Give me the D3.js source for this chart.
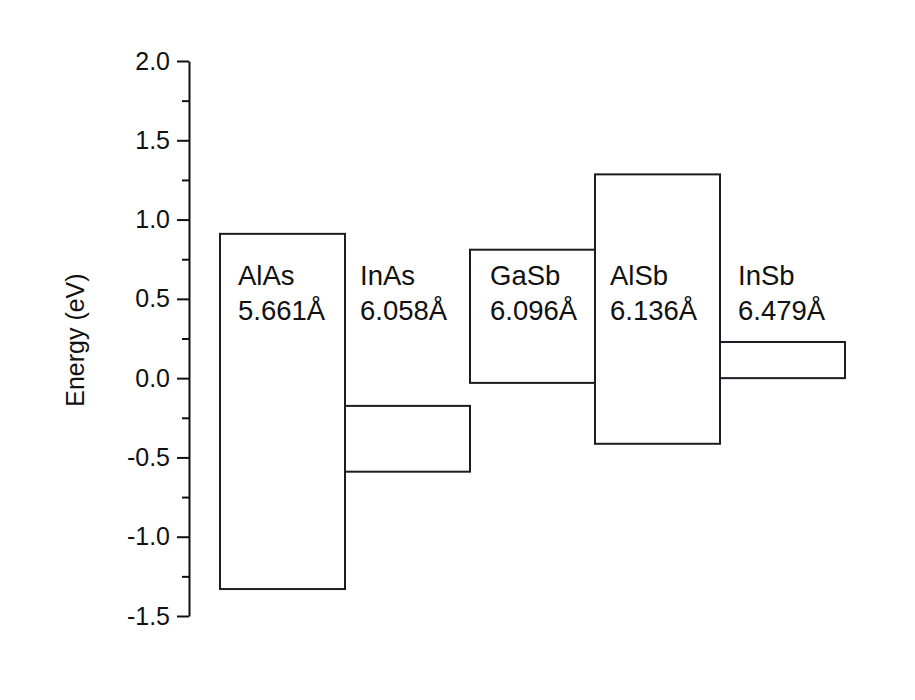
<!DOCTYPE html>
<html>
<head>
<meta charset="utf-8">
<script src="https://cdn.jsdelivr.net/npm/d3@7"></script>
<style>
  html, body { margin: 0; padding: 0; background: #ffffff; }
  svg { display: block; }
  text { font-family: Arial, "Liberation Sans", sans-serif; fill: #111; }
</style>
</head>
<body>
<svg id="chart" width="915" height="700"></svg>
<script>
// Band alignment of III-V semiconductors: each box spans valence to conduction band edge
const materials = ["AlAs", "InAs", "GaSb", "AlSb", "InSb"];
const latticeConstants = ["5.661Å", "6.058Å", "6.096Å", "6.136Å", "6.479Å"];
const bandTop = [0.91, -0.175, 0.81, 1.285, 0.228];
const bandBottom = [-1.33, -0.59, -0.03, -0.414, 0.0];

const yMajorTicks = [-1.5, -1.0, -0.5, 0.0, 0.5, 1.0, 1.5, 2.0];
const yMinorTicks = [-1.25, -0.75, -0.25, 0.25, 0.75, 1.25, 1.75];

// per-label horizontal nudge inside each box
const labelNudge = [18, 15, 20, 15, 18];

const svg = d3.select("#chart");

const y = d3.scaleLinear().domain([-1.5, 2.0]).range([616, 61]);
const x = d3.scaleBand().domain(materials).range([220, 845]).padding(0);

const axisX = 189;

// minor ticks
const minorAxis = d3.axisLeft(y).tickValues(yMinorTicks).tickSize(7).tickFormat("");
const gMinor = svg.append("g").attr("transform", `translate(${axisX},0)`).call(minorAxis);
gMinor.select(".domain").remove();
gMinor.selectAll(".tick line").attr("stroke", "#111").attr("stroke-width", 2);

// major ticks with labels
const majorAxis = d3.axisLeft(y)
  .tickValues(yMajorTicks)
  .tickSize(12)
  .tickSizeOuter(0)
  .tickPadding(7)
  .tickFormat(d3.format(".1f"));
const gMajor = svg.append("g").attr("transform", `translate(${axisX},0)`).call(majorAxis);
gMajor.select(".domain").attr("stroke", "#111").attr("stroke-width", 2);
gMajor.selectAll(".tick line").attr("stroke", "#111").attr("stroke-width", 2);
gMajor.selectAll(".tick text")
  .style("font-size", "25px")
  .attr("fill", "#111")
  .text(d => d3.format(".1f")(d).replace("−", "-"));

// axis title
svg.append("text")
  .attr("transform", `translate(84,${y(0.24)}) rotate(-90)`)
  .attr("text-anchor", "middle")
  .style("font-size", "25px")
  .text("Energy (eV)");

// band boxes
const rows = materials.map((m, i) => ({
  name: m, a: latticeConstants[i], top: bandTop[i], bottom: bandBottom[i], dx: labelNudge[i]
}));

svg.append("g").selectAll("rect")
  .data(rows)
  .join("rect")
  .attr("x", d => x(d.name))
  .attr("y", d => y(d.top))
  .attr("width", x.bandwidth())
  .attr("height", d => y(d.bottom) - y(d.top))
  .attr("fill", "none")
  .attr("stroke", "#1c1c24")
  .attr("stroke-width", 2);

// material name and lattice constant
const labels = svg.append("g").selectAll("text")
  .data(rows)
  .join("text")
  .attr("x", d => x(d.name) + d.dx)
  .style("font-size", "27.5px");
labels.append("tspan").attr("y", 285).text(d => d.name);
labels.append("tspan").attr("x", d => x(d.name) + d.dx).attr("y", 320).text(d => d.a);
</script>
</body>
</html>
